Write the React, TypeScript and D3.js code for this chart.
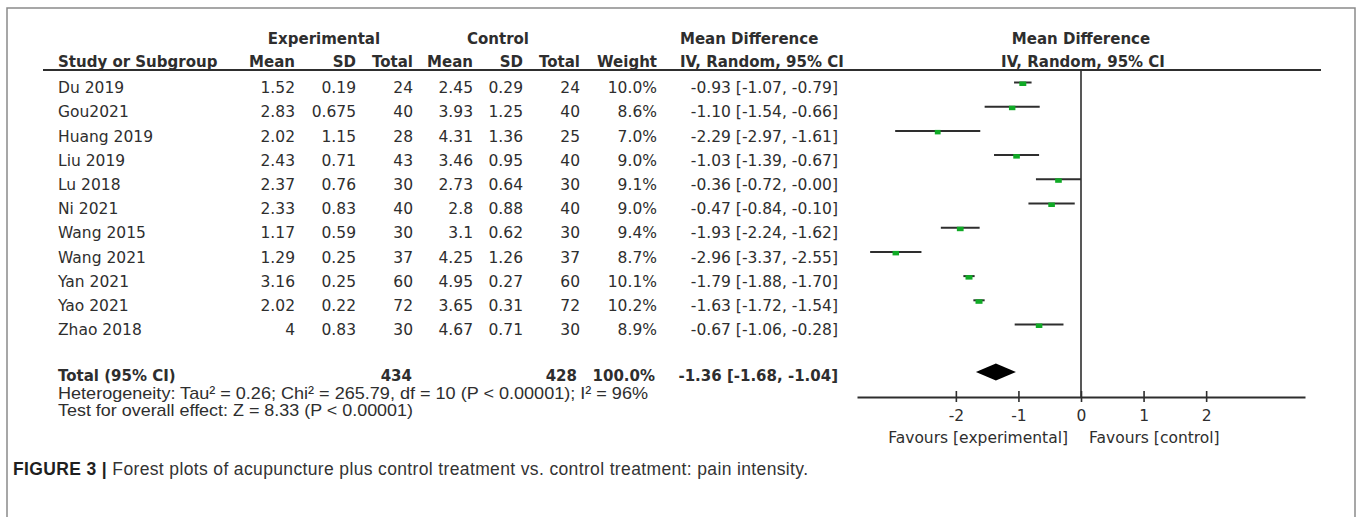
import React, { useRef, useEffect } from 'react';
import { select, scaleLinear, scalePoint, axisBottom } from 'd3';

// study rows
const studies = ['Du 2019', 'Gou2021', 'Huang 2019', 'Liu 2019', 'Lu 2018', 'Ni 2021', 'Wang 2015', 'Wang 2021', 'Yan 2021', 'Yao 2021', 'Zhao 2018'];
const expMean = ['1.52', '2.83', '2.02', '2.43', '2.37', '2.33', '1.17', '1.29', '3.16', '2.02', '4'];
const expSD = ['0.19', '0.675', '1.15', '0.71', '0.76', '0.83', '0.59', '0.25', '0.25', '0.22', '0.83'];
const expTotal = [24, 40, 28, 43, 30, 40, 30, 37, 60, 72, 30];
const ctlMean = ['2.45', '3.93', '4.31', '3.46', '2.73', '2.8', '3.1', '4.25', '4.95', '3.65', '4.67'];
const ctlSD = ['0.29', '1.25', '1.36', '0.95', '0.64', '0.88', '0.62', '1.26', '0.27', '0.31', '0.71'];
const ctlTotal = [24, 40, 25, 40, 30, 40, 30, 37, 60, 72, 30];
const weights = [10.0, 8.6, 7.0, 9.0, 9.1, 9.0, 9.4, 8.7, 10.1, 10.2, 8.9];
const meanDiff = [-0.93, -1.10, -2.29, -1.03, -0.36, -0.47, -1.93, -2.96, -1.79, -1.63, -0.67];
const ciLow = [-1.07, -1.54, -2.97, -1.39, -0.72, -0.84, -2.24, -3.37, -1.88, -1.72, -1.06];
const ciHigh = [-0.79, -0.66, -1.61, -0.67, -0.00, -0.10, -1.62, -2.55, -1.70, -1.54, -0.28];

// pooled result
const totalExp = 434;
const totalCtl = 428;
const totalWeight = 100.0;
const pooled = { md: -1.36, lo: -1.68, hi: -1.04 };
const heterogeneity = 'Heterogeneity: Tau\u00b2 = 0.26; Chi\u00b2 = 265.79, df = 10 (P < 0.00001); I\u00b2 = 96%';
const overallEffect = 'Test for overall effect: Z = 8.33 (P < 0.00001)';

const axisTicks = [-2, -1, 0, 1, 2];
const favourLeft = 'Favours [experimental]';
const favourRight = 'Favours [control]';

const tableFont = '"DejaVu Sans", sans-serif';
const arialFont = '"Liberation Sans", Arial, sans-serif';
const ink = '#2e2e2e';

const fmt = (v: number) => ((v < 0 || Object.is(v, -0)) ? '-' : '') + Math.abs(v).toFixed(2);
const ciText = (m: number, l: number, h: number) => `${fmt(m)} [${fmt(l)}, ${fmt(h)}]`;

export default function App() {
    const axisRef = useRef<SVGGElement | null>(null);

    const x = scaleLinear().domain([-3.58, 3.58]).range([857, 1305]);
    const y = scalePoint<string>().domain(studies).range([87.5, 329.5]);
    const axisY = 397;
    const baseOff = 5.6; // text centre -> baseline
    const lineOff = -5;  // text centre -> CI line

    useEffect(() => {
        if (!axisRef.current) return;
        const g = select(axisRef.current);
        g.selectAll('*').remove();
        g.call(axisBottom(x).tickValues(axisTicks).tickSizeOuter(0).tickFormat(d => `${d}`));
        g.select('.domain').attr('stroke', ink).attr('stroke-width', 2);
        g.selectAll('.tick line').attr('stroke', ink).attr('stroke-width', 1.6).attr('y1', -6).attr('y2', 5);
        g.selectAll('.tick text')
            .attr('y', 23.5).attr('dy', null)
            .attr('fill', ink)
            .style('font-family', tableFont).style('font-size', '15.5px');
    }, []);

    const cols = [
        { x: 295, vals: expMean },
        { x: 356, vals: expSD },
        { x: 413, vals: expTotal.map(String) },
        { x: 473, vals: ctlMean },
        { x: 523, vals: ctlSD },
        { x: 580, vals: ctlTotal.map(String) },
        { x: 657, vals: weights.map(w => `${w.toFixed(1)}%`) },
        { x: 838, vals: studies.map((_, i) => ciText(meanDiff[i], ciLow[i], ciHigh[i])) },
    ];
    const heads = [
        { x: 295, t: 'Mean' }, { x: 356, t: 'SD' }, { x: 413, t: 'Total' },
        { x: 473, t: 'Mean' }, { x: 523, t: 'SD' }, { x: 580, t: 'Total' }, { x: 657, t: 'Weight' },
    ];

    const totalY = 375;
    const diamondY = 372;
    const dh = 8.5;
    const diamond = [
        [x(pooled.lo), diamondY], [x(pooled.md), diamondY - dh],
        [x(pooled.hi), diamondY], [x(pooled.md), diamondY + dh],
    ].map(p => p.join(',')).join(' ');

    return (
        <svg width={1357} height={517} style={{ position: 'absolute', left: 0, top: 0, background: '#fff' }}>
            <rect x={7} y={8} width={1348} height={520} fill="#fff" stroke="#8a8a8a" strokeWidth={1.5} />

            {/* header */}
            <g fontFamily={tableFont} fontWeight="bold" fontSize={15} fill={ink}>
                <text x={324} y={43.5} textAnchor="middle">Experimental</text>
                <text x={498} y={43.5} textAnchor="middle">Control</text>
                <text x={680} y={43.5}>Mean Difference</text>
                <text x={1081} y={43.5} textAnchor="middle">Mean Difference</text>
                <text x={58} y={66.5}>Study or Subgroup</text>
                {heads.map((h, i) => <text key={i} x={h.x} y={66.5} textAnchor="end">{h.t}</text>)}
                <text x={680} y={66.5}>IV, Random, 95% CI</text>
                <text x={1083} y={66.5} textAnchor="middle">IV, Random, 95% CI</text>
            </g>
            <line x1={43} x2={1321} y1={70} y2={70} stroke={ink} strokeWidth={2} />

            {/* study rows */}
            <g fontFamily={tableFont} fontSize={15.5} fill={ink}>
                {studies.map(s => <text key={s} x={58} y={(y(s) as number) + baseOff}>{s}</text>)}
                {cols.map((c, ci) => c.vals.map((v, i) => (
                    <text key={`${ci}-${i}`} x={c.x} y={(y(studies[i]) as number) + baseOff} textAnchor="end">{v}</text>
                )))}
            </g>

            {/* total row */}
            <g fontFamily={tableFont} fontWeight="bold" fontSize={15} fill={ink}>
                <text x={58} y={totalY + baseOff}>Total (95% CI)</text>
                <text x={412} y={totalY + baseOff} textAnchor="end">{totalExp}</text>
                <text x={577} y={totalY + baseOff} textAnchor="end">{totalCtl}</text>
                <text x={655} y={totalY + baseOff} textAnchor="end">{`${totalWeight.toFixed(1)}%`}</text>
                <text x={838} y={totalY + baseOff} textAnchor="end">{ciText(pooled.md, pooled.lo, pooled.hi)}</text>
            </g>
            <g fontFamily={arialFont} fontSize={17} fill={ink}>
                <text x={58} y={399.2} textLength={590} lengthAdjust="spacingAndGlyphs">{heterogeneity}</text>
                <text x={58} y={415.5} textLength={355} lengthAdjust="spacingAndGlyphs">{overallEffect}</text>
            </g>

            {/* forest plot */}
            <line x1={x(0)} x2={x(0)} y1={70} y2={axisY} stroke={ink} strokeWidth={1.6} />
            {studies.map((s, i) => {
                const ly = (y(s) as number) + lineOff;
                const w = Math.sqrt(weights[i]) * 2.2;
                return (
                    <g key={s}>
                        <line x1={x(ciLow[i])} x2={x(ciHigh[i])} y1={ly} y2={ly} stroke={ink} strokeWidth={2} />
                        <rect x={x(meanDiff[i]) - w / 2} y={ly - 1} width={w} height={4.5} fill="#10aa26" />
                    </g>
                );
            })}
            <polygon points={diamond} fill="#000" />
            <g ref={axisRef} transform={`translate(0,${axisY})`} />
            <g fontFamily={tableFont} fontSize={15.5} fill={ink}>
                <text x={1068} y={442.5} textAnchor="end">{favourLeft}</text>
                <text x={1089} y={442.5}>{favourRight}</text>
            </g>

            {/* caption */}
            <text x={13} y={474.5} fontFamily={arialFont} fontSize={17.5} fill="#333" textLength={795} lengthAdjust="spacing">
                <tspan fontWeight="bold" fill="#1f1f1f">FIGURE 3 |</tspan>
                <tspan> Forest plots of acupuncture plus control treatment vs. control treatment: pain intensity.</tspan>
            </text>
        </svg>
    );
}
